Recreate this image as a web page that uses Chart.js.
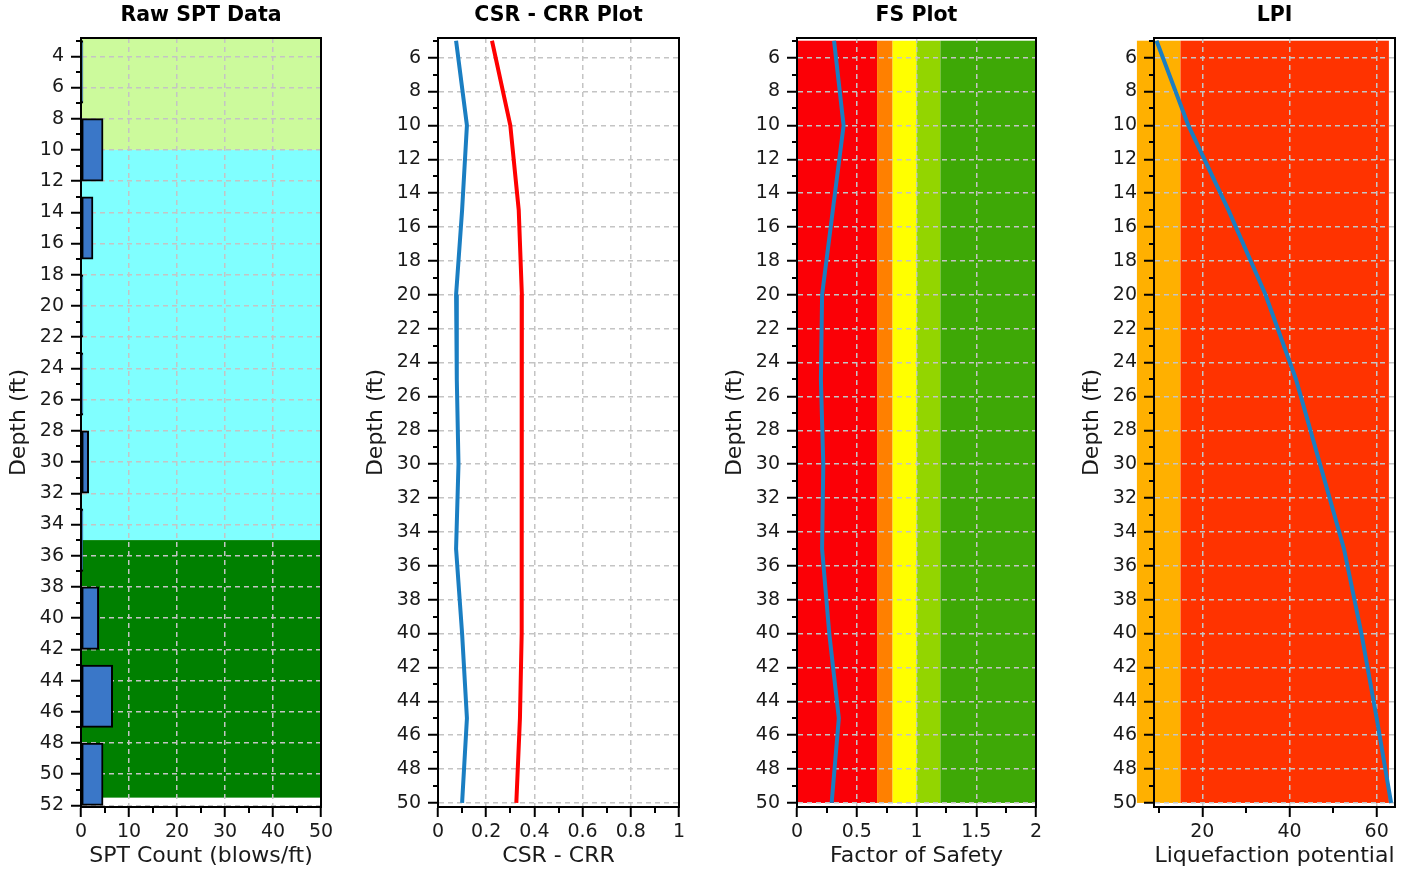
<!DOCTYPE html>
<html><head><meta charset="utf-8">
<script src="https://cdn.jsdelivr.net/npm/chart.js@4.4.1/dist/chart.umd.min.js"></script>
<style>
html,body{margin:0;padding:0;background:#fff;width:1408px;height:869px;overflow:hidden}
canvas{position:absolute;top:0}
</style></head><body>
<canvas id="c1" width="340" height="869" style="left:0px"></canvas>
<canvas id="c2" width="340" height="869" style="left:357px"></canvas>
<canvas id="c3" width="340" height="869" style="left:716px"></canvas>
<canvas id="c4" width="335" height="869" style="left:1073px"></canvas>
<script>
// ---------- data ----------
const depths = [5, 10, 15, 20, 25, 30, 35, 40, 45, 50];
const sptCounts = [0.4, 4.6, 2.5, 0.4, 0.4, 1.6, 0.4, 3.7, 6.6, 4.6];
const csrValues = [0.075, 0.12, 0.10, 0.075, 0.078, 0.085, 0.075, 0.10, 0.12, 0.10];
const crrValues = [0.224, 0.30, 0.335, 0.348, 0.348, 0.348, 0.348, 0.345, 0.34, 0.325];
const fsValues = [0.31, 0.39, 0.30, 0.21, 0.20, 0.22, 0.21, 0.27, 0.35, 0.29];
const lpiValues = [9.5, 16.8, 26, 34.5, 41.5, 47, 52.5, 56.5, 60, 63.3];

const soilTops = [2.83, 10, 35];
const soilBottoms = [10, 35, 51.5];
const soilColors = ['#ccfa9c', '#80ffff', '#008000'];

const bandDepths = [5, 50];
const fsBandEdges = [0, 0.67, 0.8, 1.0, 1.2, 2.0];
const fsBandColors = ['#fb0006', '#ff8000', '#ffff00', '#93d500', '#3ea806'];
const lpiBandEdges = [5, 15, 62.8];
const lpiBandColors = ['#ffb000', '#ff3300'];

const panelTitles = ['Raw SPT Data', 'CSR - CRR Plot', 'FS Plot', 'LPI'];
const xTitles = ['SPT Count (blows/ft)', 'CSR - CRR', 'Factor of Safety', 'Liquefaction potential'];
const yTitle = 'Depth (ft)';

// ---------- style ----------
const FONT = "'DejaVu Sans', Verdana, sans-serif";
const TXT = '#1a1a1a';
const GRID = '#c4c4c4';
const LINE_BLUE = '#1a7ec2';

function alignedTicks(step) {
  return scale => {
    const out = [];
    const eps = step * 1e-6;
    const a = Math.ceil((scale.min - eps) / step);
    const b = Math.floor((scale.max + eps) / step);
    for (let k = a; k <= b; k++) out.push({ value: +(k * step).toFixed(6) });
    scale.ticks = out;
  };
}

function depthAxis(min, max) {
  const isMaj = v => Math.abs(v / 2 - Math.round(v / 2)) < 1e-6;
  return {
    type: 'linear', position: 'left', reverse: true, min, max, offset: false, bounds: 'data',
    afterBuildTicks: alignedTicks(1),
    afterFit: s => { s.width = 81; },
    title: { display: true, text: yTitle, color: TXT, font: { family: FONT, size: 22 }, padding: { top: 6, bottom: 0 } },
    ticks: { autoSkip: false, maxRotation: 0, minRotation: 0, padding: 7, color: TXT,
      font: { family: FONT, size: 19 },
      callback: v => isMaj(v) ? String(Math.round(v)) : '' },
    grid: { offset: false, tickLength: 10, tickWidth: 2, tickColor: '#000',
      color: c => (c.tick && isMaj(c.tick.value)) ? GRID : 'rgba(0,0,0,0)',
      lineWidth: c => (c.tick && isMaj(c.tick.value)) ? 1.5 : 0,
      tickBorderDash: c => (c.tick && isMaj(c.tick.value)) ? [] : [0, 5, 5, 60] },
    border: { display: true, color: '#000', width: 2, dash: [5, 4] }
  };
}

function valueAxis(min, max, step, isMaj, fmt, title) {
  return {
    type: 'linear', position: 'bottom', min, max, offset: false, bounds: 'data',
    afterBuildTicks: alignedTicks(step),
    afterFit: s => { s.height = 62; },
    title: { display: true, text: title, color: TXT, font: { family: FONT, size: 22 }, padding: { top: 0, bottom: 0 } },
    ticks: { autoSkip: false, maxRotation: 0, minRotation: 0, padding: 4, color: TXT,
      font: { family: FONT, size: 19 },
      callback: v => isMaj(v) ? fmt(v) : '' },
    grid: { offset: false, tickLength: 10, tickWidth: 2, tickColor: '#000',
      color: c => (c.tick && isMaj(c.tick.value)) ? GRID : 'rgba(0,0,0,0)',
      lineWidth: c => (c.tick && isMaj(c.tick.value)) ? 1.5 : 0,
      tickBorderDash: c => (c.tick && isMaj(c.tick.value)) ? [] : [5, 60] },
    border: { display: true, color: '#000', width: 2, dash: [5, 4] }
  };
}

// background bands drawn through the chart's own scales
function bandsPlugin(rects) {
  return {
    id: 'bands',
    beforeDraw(chart) {
      const { ctx, scales: { x, y } } = chart;
      ctx.save();
      rects.forEach(r => {
        const x0 = x.getPixelForValue(r.x0), x1 = x.getPixelForValue(r.x1);
        const y0 = y.getPixelForValue(r.y0), y1 = y.getPixelForValue(r.y1);
        ctx.fillStyle = r.color;
        ctx.fillRect(Math.min(x0, x1), Math.min(y0, y1), Math.abs(x1 - x0), Math.abs(y1 - y0));
      });
      ctx.restore();
    }
  };
}
const framePlugin = {
  id: 'frame',
  afterDraw(chart) {
    const { ctx, chartArea: a } = chart;
    ctx.save();
    ctx.strokeStyle = '#000';
    ctx.lineWidth = 2;
    ctx.strokeRect(Math.round(a.left), Math.round(a.top), Math.round(a.right) - Math.round(a.left), Math.round(a.bottom) - Math.round(a.top));
    ctx.restore();
  }
};

function baseOptions(title, padRight, xAxis, yAxis) {
  return {
    responsive: false, maintainAspectRatio: false, animation: false, indexAxis: 'y',
    layout: { padding: { left: 0, right: padRight, top: 0, bottom: 0 } },
    plugins: {
      legend: { display: false }, tooltip: { enabled: false },
      title: { display: true, text: title, fullSize: false, color: '#000',
        font: { family: FONT, size: 20.5, weight: 'bold', lineHeight: 1.2 }, padding: { top: 3, bottom: 10.4 } }
    },
    scales: { x: xAxis, y: yAxis }
  };
}
const pts = vals => vals.map((v, i) => ({ x: v, y: depths[i] }));

// ---------- Panel 1: Raw SPT ----------
const soilRects = soilTops.map((t, i) => ({ x0: 0, x1: 50, y0: t, y1: soilBottoms[i], color: soilColors[i] }));
new Chart(document.getElementById('c1'), {
  type: 'bar',
  data: { datasets: [{
    data: pts(sptCounts),
    backgroundColor: '#3a77c8', borderColor: '#000', borderWidth: 2, borderSkipped: false,
    barThickness: 'flex', categoryPercentage: 1, barPercentage: 0.8
  }] },
  options: baseOptions(panelTitles[0], 19,
    valueAxis(0, 50, 5, v => Math.abs(v / 10 - Math.round(v / 10)) < 1e-6, v => String(Math.round(v)), xTitles[0]),
    depthAxis(2.83, 52.1)),
  plugins: [bandsPlugin(soilRects), framePlugin]
});

// ---------- Panel 2: CSR - CRR ----------
new Chart(document.getElementById('c2'), {
  type: 'line',
  data: { datasets: [
    { data: pts(csrValues), borderColor: LINE_BLUE, borderWidth: 4, pointRadius: 0, fill: false },
    { data: pts(crrValues), borderColor: '#ff0000', borderWidth: 4, pointRadius: 0, fill: false }
  ] },
  options: baseOptions(panelTitles[1], 18,
    valueAxis(0, 1, 0.1, v => Math.round(v * 10) % 2 === 0, v => String(Math.round(v * 10) / 10), xTitles[1]),
    depthAxis(4.84, 50.24)),
  plugins: [framePlugin]
});

// ---------- Panel 3: FS ----------
const fsRects = fsBandColors.map((c, i) => ({ x0: fsBandEdges[i], x1: fsBandEdges[i + 1], y0: bandDepths[0], y1: bandDepths[1], color: c }));
new Chart(document.getElementById('c3'), {
  type: 'line',
  data: { datasets: [
    { data: pts(fsValues), borderColor: LINE_BLUE, borderWidth: 4, pointRadius: 0, fill: false }
  ] },
  options: baseOptions(panelTitles[2], 20,
    valueAxis(0, 2, 0.25, v => Math.round(v * 4) % 2 === 0, v => String(Math.round(v * 2) / 2), xTitles[2]),
    depthAxis(4.84, 50.24)),
  plugins: [bandsPlugin(fsRects), framePlugin]
});

// ---------- Panel 4: LPI ----------
const lpiRects = lpiBandColors.map((c, i) => ({ x0: lpiBandEdges[i], x1: lpiBandEdges[i + 1], y0: bandDepths[0], y1: bandDepths[1], color: c }));
new Chart(document.getElementById('c4'), {
  type: 'line',
  data: { datasets: [
    { data: pts(lpiValues), borderColor: LINE_BLUE, borderWidth: 4, pointRadius: 0, fill: false }
  ] },
  options: baseOptions(panelTitles[3], 13,
    valueAxis(8.92, 64.2, 10, v => Math.round(v) % 20 === 0, v => String(Math.round(v)), xTitles[3]),
    depthAxis(4.84, 50.24)),
  plugins: [bandsPlugin(lpiRects), framePlugin]
});
</script>
</body></html>
